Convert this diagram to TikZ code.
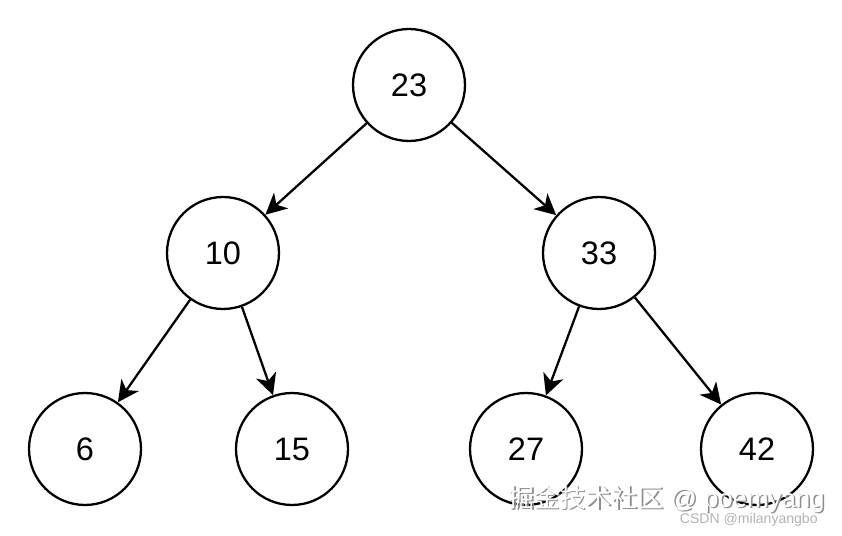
\documentclass[tikz,border=0pt]{standalone}
\usepackage{fontspec}
\setmainfont{Liberation Sans}
\newfontfamily\cjk{Noto Sans CJK SC}
\usetikzlibrary{arrows,arrows.meta,positioning}

\begin{document}
\begin{tikzpicture}[x=0.02cm,y=-0.02cm,
  key/.style={circle,draw,line width=1.3pt,minimum size=2.24cm,inner sep=0pt,font=\fontsize{18.5}{22}\selectfont},
  edge/.style={-{Stealth[length=12pt,width=12pt,inset=3.5pt]},line width=1.3pt}]
\useasboundingbox (0,0) rectangle (842,536);
\node[key] at (409,85) (n23) {23};
\node[key] at (223,253) (n10) {10};
\node[key] at (599,253) (n33) {33};
\node[key] at (85,449) (n6) {6};
\node[key] at (292,449) (n15) {15};
\node[key] at (526,449) (n27) {27};
\node[key] at (757,449) (n42) {42};

\draw[edge] (n23) -- (n10);
\draw[edge] (n23) -- (n33);
\draw[edge] (n10) -- (n6);
\draw[edge] (n10) -- (n15);
\draw[edge] (n33) -- (n27);
\draw[edge] (n33) -- (n42);

% watermark
\node[anchor=south east,inner sep=0pt,text=black!45,font=\fontsize{14.7}{18}\selectfont] at (826.5,514.5) (wm1s) {{\cjk 掘金技术社区} @ poemyang};
\node[anchor=south east,inner sep=0pt,text=white,font=\fontsize{14.7}{18}\selectfont] at (825,513) (wm1) {{\cjk 掘金技术社区} @ poemyang};
\node[anchor=south east,inner sep=0pt,text=black!30,font=\fontsize{8}{10}\selectfont] at (818,527) (wm2) {CSDN @milanyangbo};
\end{tikzpicture}
\end{document}
